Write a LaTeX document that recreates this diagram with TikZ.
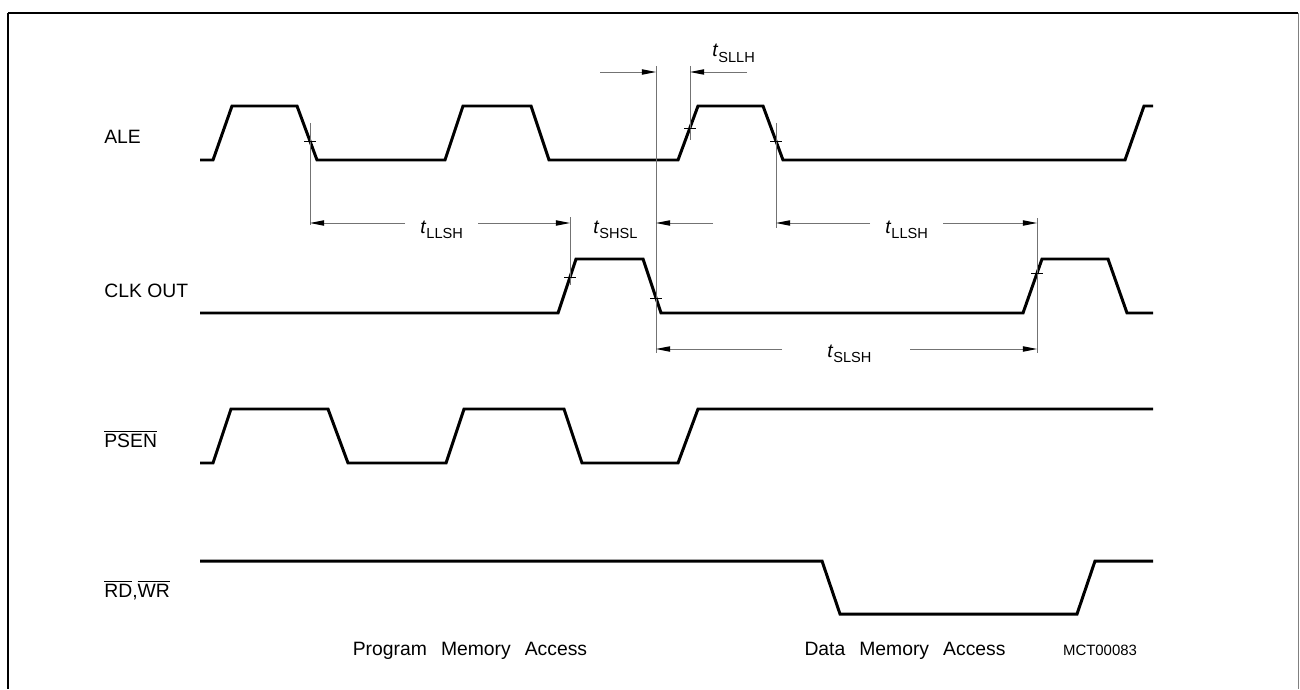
\documentclass[tikz,border=0pt]{standalone}
\usepackage{fontspec}
\setmainfont{Liberation Sans}
\usepackage{tikz}
\usetikzlibrary{arrows.meta}
\tikzstyle{dimarrow} = [draw=black!55,line width=0.5pt,-{Triangle[length=8pt,width=3pt,color=black]}]
\tikzset{every node/.style={inner sep=0pt,font=\fontsize{11}{13}\selectfont}}
\newcommand{\tsub}[1]{\textit{t}\raisebox{-3.2pt}{\fontsize{8.3}{9}\selectfont #1}}
\newcommand{\wsp}{\hspace{8pt}}

\begin{document}
\begin{tikzpicture}[
    x=0.02cm, y=-0.02cm,
    wave/.style={line width=1.7pt,line join=miter},
    guide/.style={draw=black!55,line width=0.5pt},
    tick/.style={line width=0.5pt},
    sig/.style={anchor=base west},
    lbl/.style={anchor=base west}
]
  \useasboundingbox (0,0) rectangle (1300,689);
  % Frame
  \draw[line width=1.5pt] (8,13) -- (1298,13);
  \draw[line width=1.1pt] (8,13) -- (8,689);
  \draw[black!50,line width=0.6pt] (1298.5,13) -- (1298.5,689);
  % Signal names
  \node[sig] (ale)  at (104,144) {ALE};
  \node[sig] (clk)  at (104,297) {CLK OUT};
  \node[sig] (psen) at (104,447) {$\overline{\mbox{PSEN}}$};
  \node[sig] (rdwr) at (104,597) {$\overline{\mbox{RD}}$,$\overline{\mbox{WR}}$};
  % Waveforms
  \draw[wave] (200,160) -- (213,160) -- (232,106) -- (297,106) -- (317,160) -- (445,160)
      -- (463,106) -- (531,106) -- (549,160) -- (678,160) -- (698,106) -- (763,106)
      -- (783,160) -- (1125,160) -- (1144,106) -- (1153,106);
  \draw[wave] (200,313) -- (558,313) -- (576,259) -- (643,259) -- (661,313) -- (1023,313)
      -- (1042,259) -- (1108,259) -- (1127,313) -- (1153,313);
  \draw[wave] (200,463) -- (213,463) -- (231,409) -- (328,409) -- (348,463) -- (446,463)
      -- (464,409) -- (564,409) -- (582,463) -- (678,463) -- (698,409) -- (1153,409);
  \draw[wave] (200,561) -- (822,561) -- (840,614) -- (1077,614) -- (1095,561) -- (1153,561);
  % Guide lines and crossing ticks
  \foreach \n/\x/\ya/\yb/\yt in {1/310/123/225/141, 2/570/217/285/277, 3/656/66/353/298,
                                 4/690/66/140/128, 5/776/123/228/141, 6/1037/218/353/273}{
      \coordinate (g\n) at (\x,\ya);
      \draw[guide] (\x,\ya) -- (\x,\yb);
      \draw[tick] (\x-6,\yt) -- (\x+6,\yt);
  }
  % Timing labels
  \node[lbl] (sllh)  at (712,57)  {\tsub{SLLH}};
  \node[lbl] (llsh1) at (420,233) {\tsub{LLSH}};
  \node[lbl] (shsl)  at (593,233) {\tsub{SHSL}};
  \node[lbl] (llsh2) at (885,233) {\tsub{LLSH}};
  \node[lbl] (slsh)  at (827,357) {\tsub{SLSH}};
  % Dimension arrows
  \coordinate (a1) at (405,223);
  \coordinate (a2) at (478,223);
  \coordinate (a3) at (713,223);
  \coordinate (a4) at (870,223);
  \coordinate (a5) at (943,223);
  \coordinate (a6) at (600,72);
  \coordinate (a7) at (747,72);
  \coordinate (a8) at (782,349);
  \coordinate (a9) at (910,349);
  \draw[dimarrow] (a1) -- (g1 |- a1);
  \draw[dimarrow] (a2) -- (g2 |- a2);
  \draw[dimarrow] (a3) -- (g3 |- a3);
  \draw[dimarrow] (a4) -- (g5 |- a4);
  \draw[dimarrow] (a5) -- (g6 |- a5);
  \draw[dimarrow] (a6) -- (g3 |- a6);
  \draw[dimarrow] (a7) -- (g4 |- a7);
  \draw[dimarrow] (a8) -- (g3 |- a8);
  \draw[dimarrow] (a9) -- (g6 |- a9);
  % Access regions
  \node[anchor=base] (prog) at (470,655) {Program\wsp Memory\wsp Access};
  \node[anchor=base] (data) at (905,655) {Data\wsp Memory\wsp Access};
  \node[anchor=base,font=\fontsize{8.5}{10}\selectfont] (mct) at (1100,655) {MCT00083};
\end{tikzpicture}
\end{document}
